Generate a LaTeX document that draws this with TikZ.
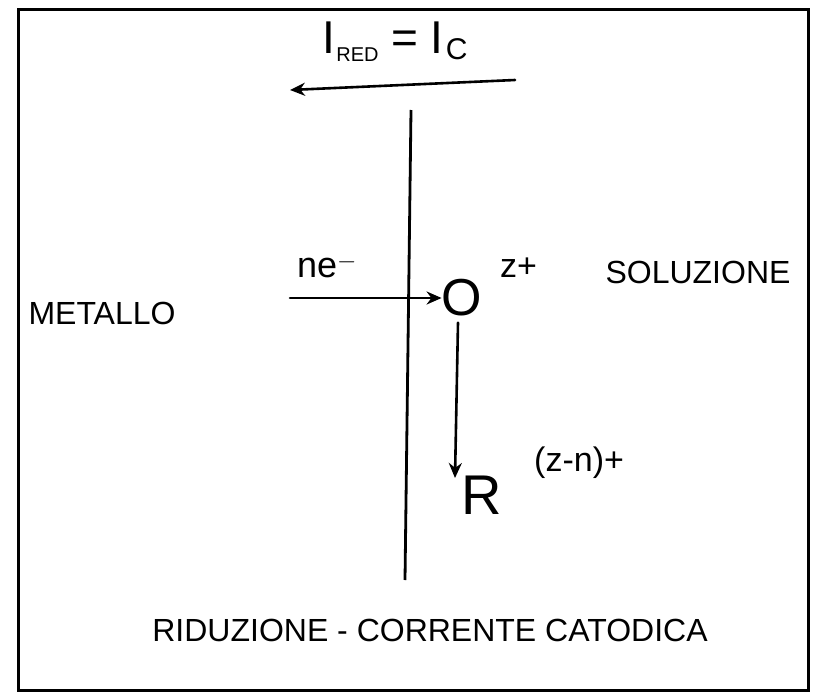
\documentclass[tikz,border=0pt]{standalone}
\usepackage{fontspec}
\setmainfont{Liberation Sans}
\usetikzlibrary{arrows.meta}
\tikzset{
  hand/.style={line width=2.6pt, line cap=round},
  arr/.style={hand, -{Stealth[length=15pt,width=13pt]}},
  lbl/.style={inner sep=0pt, font=\fontsize{32}{34}\selectfont},
  big/.style={inner sep=0pt, font=\fontsize{52}{52}\selectfont},
  sup/.style={inner sep=0pt, font=\fontsize{34}{36}\selectfont}
}
\begin{document}
\begin{tikzpicture}[x=1pt,y=-1pt]
\useasboundingbox (0,0) rectangle (817,693);
% frame
\draw[line width=3pt] (18,10) rectangle (808,690);
% title
\node[inner sep=0pt, font=\fontsize{46}{46}\selectfont] (title) at (395,42) {I\kern1pt\raisebox{-8pt}{\fontsize{20}{20}\selectfont RED} = I\kern2pt\raisebox{-6pt}{\fontsize{30}{30}\selectfont C}};
% current arrow
\coordinate (ta) at (515,80);
\coordinate (th) at (290,90);
\draw[arr] (ta) -- (th);
% interface
\coordinate (it) at (411,110);
\coordinate (ib) at (405,580);
\draw[line width=2.8pt] (it) -- (ib);
% labels
\node[lbl] (met) at (102,313) {METALLO};
\node[lbl] (sol) at (698,272) {SOLUZIONE};
\node[lbl, font=\fontsize{36}{36}\selectfont] (ne) at (327,266) {ne$^{-}$};
% species
\node[big] (O) at (462,298) {O};
\node[sup, anchor=west] (Oz) at (500,268) {z+};
\node[big, font=\fontsize{56}{56}\selectfont] (R) at (482,495) {R};
\node[sup, anchor=west] (Rz) at (534,463) {(z-n)+};
% arrows
\coordinate (ns) at (290,298);
\draw[arr] (ns) -- (O.west);
\coordinate (rt) at (455,478);
\draw[arr] (O.south) ++(-4,6) -- (rt);
% bottom caption
\node[lbl] (cap) at (430,630) {RIDUZIONE - CORRENTE CATODICA};
\end{tikzpicture}
\end{document}
